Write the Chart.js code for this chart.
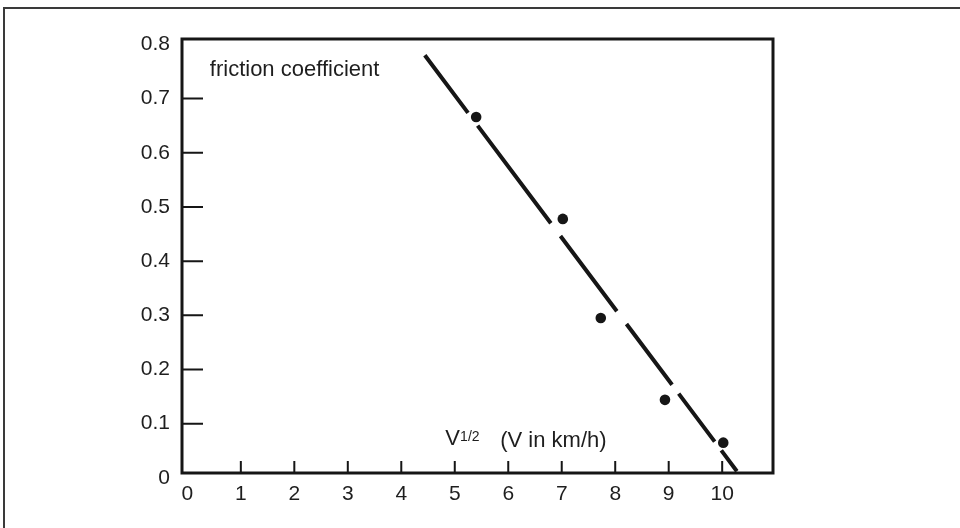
<!DOCTYPE html>
<html>
<head>
<meta charset="utf-8">
<script src="https://cdn.jsdelivr.net/npm/chart.js@4/dist/chart.umd.min.js"></script>
<style>
  html, body { margin: 0; padding: 0; background: #ffffff; }
  #wrap { width: 960px; height: 528px; position: relative; }
  canvas { display: block; }
</style>
</head>
<body>
<div id="wrap"><canvas id="c" width="960" height="528"></canvas></div>
<script>
// ---- data ----
const sqrtSpeed = [5.40, 7.02, 7.73, 8.93, 10.02];          // V^(1/2)
const friction  = [0.666, 0.478, 0.295, 0.144, 0.065];      // friction coefficient
const fitX      = [4.44, 10.30];                            // fitted line ends
const fitY      = [0.780, 0.009];
const xTickValues = [0, 1, 2, 3, 4, 5, 6, 7, 8, 9, 10];
const yTickValues = [0, 0.1, 0.2, 0.3, 0.4, 0.5, 0.6, 0.7, 0.8];
const yAxisTitle = 'friction coefficient';
const xAxisTitleMain = 'V';
const xAxisTitleSup = '1/2';
const xAxisTitleUnit = '(V in km/h)';

const INK = '#161616';
const FONT = '"Liberation Sans", Arial, Helvetica, sans-serif';

const decor = {
  id: 'decor',
  beforeDatasetsDraw(chart) {
    const { ctx, chartArea: a, scales: { x, y } } = chart;
    ctx.save();
    // outer figure frame (left + top)
    ctx.strokeStyle = '#3a3a3a';
    ctx.lineWidth = 2;
    ctx.beginPath();
    ctx.moveTo(4, 528);
    ctx.lineTo(4, 8);
    ctx.lineTo(960, 8);
    ctx.stroke();
    // plot box
    ctx.strokeStyle = INK;
    ctx.lineWidth = 3;
    ctx.strokeRect(a.left, a.top, a.right - a.left, a.bottom - a.top);
    // inward tick marks
    ctx.lineWidth = 2;
    ctx.beginPath();
    yTickValues.forEach(v => {
      if (v <= 0 || v >= 0.8) return;
      const py = y.getPixelForValue(v);
      ctx.moveTo(a.left, py);
      ctx.lineTo(a.left + 21, py);
    });
    xTickValues.forEach(v => {
      if (v <= 0) return;
      const px = x.getPixelForValue(v);
      ctx.moveTo(px, a.bottom);
      ctx.lineTo(px, a.bottom - 12);
    });
    ctx.stroke();
    ctx.restore();
  },
  afterDraw(chart) {
    const { ctx, scales: { x, y } } = chart;
    ctx.save();
    ctx.fillStyle = '#1e1e1e';
    ctx.textBaseline = 'alphabetic';
    ctx.textAlign = 'left';
    ctx.font = '22px ' + FONT;
    ctx.fillText(yAxisTitle, x.getPixelForValue(0.42), y.getPixelForValue(0.742));
    ctx.fillText(xAxisTitleMain, x.getPixelForValue(4.82), y.getPixelForValue(0.061));
    ctx.fillText(xAxisTitleUnit, x.getPixelForValue(5.85), y.getPixelForValue(0.057));
    ctx.font = '14px ' + FONT;
    ctx.fillText(xAxisTitleSup, x.getPixelForValue(5.10), y.getPixelForValue(0.068));
    ctx.restore();
  }
};

new Chart(document.getElementById('c'), {
  type: 'scatter',
  data: {
    datasets: [
      {
        type: 'line',
        data: fitX.map((v, i) => ({ x: v, y: fitY[i] })),
        borderColor: INK,
        borderWidth: 4,
        borderCapStyle: 'butt',
        borderDash: [72, 16, 122, 16, 94, 16, 76, 11, 60, 11, 26, 40],
        pointRadius: 0,
        fill: false,
        tension: 0,
        order: 2
      },
      {
        data: sqrtSpeed.map((v, i) => ({ x: v, y: friction[i] })),
        backgroundColor: INK,
        borderColor: INK,
        borderWidth: 0,
        pointRadius: 5.3,
        order: 1
      }
    ]
  },
  options: {
    responsive: false,
    animation: false,
    devicePixelRatio: 1,
    layout: { padding: { left: 0, top: 39, right: 187, bottom: 0 } },
    plugins: { legend: { display: false }, tooltip: { enabled: false } },
    scales: {
      x: {
        type: 'linear',
        min: -0.1,
        max: 10.95,
        afterFit(s) { s.height = 55; },
        afterBuildTicks(s) { s.ticks = xTickValues.map(v => ({ value: v })); },
        grid: { display: false, drawTicks: false },
        border: { display: false },
        ticks: {
          padding: 9,
          color: '#1e1e1e',
          font: { family: FONT, size: 21 },
          maxRotation: 0,
          autoSkip: false,
          callback: v => String(v)
        }
      },
      y: {
        type: 'linear',
        min: 0.009,
        max: 0.81,
        afterFit(s) { s.width = 182; },
        afterBuildTicks(s) { s.ticks = yTickValues.map(v => ({ value: v })); },
        grid: { display: false, drawTicks: false },
        border: { display: false },
        ticks: {
          padding: 12,
          color: '#1e1e1e',
          font: { family: FONT, size: 21 },
          autoSkip: false,
          callback: v => (v === 0 ? '0' : Number(v).toFixed(1))
        }
      }
    }
  },
  plugins: [decor]
});
</script>
</body>
</html>
